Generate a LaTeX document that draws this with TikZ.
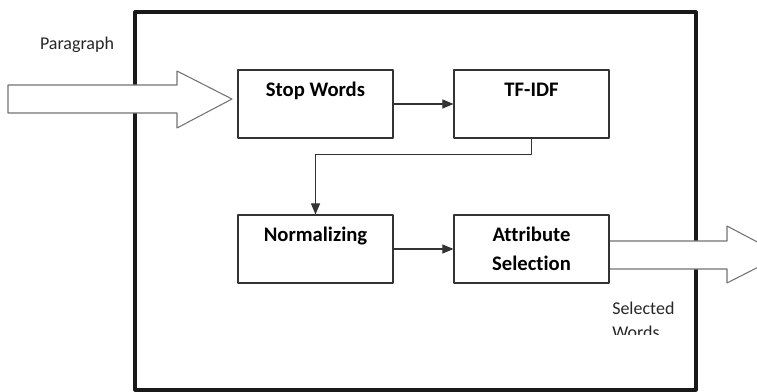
\documentclass[tikz,border=0pt]{standalone}
\usepackage{fontspec}
\setmainfont{Carlito}[Ligatures=NoCommon]
\usetikzlibrary{arrows,positioning}

\begin{document}
\begin{tikzpicture}
  [line cap=round,line join=round,>=triangle 45,x=0.75pt,y=-0.75pt,
   stepbox/.style={draw=black!80,line width=0.9pt,fill=white,
     minimum width=116.25pt,minimum height=51pt,align=center,
     font=\bfseries\fontsize{15.5}{21.75}\selectfont},
   flow/.style={draw=black!80,line width=0.9pt},
   bigarrow/.style={draw=black!55,line width=0.8pt,fill=white},
   note/.style={text=black!85,align=left,inner sep=0pt,
     font=\fontsize{13.5}{17.5}\selectfont}]
  \useasboundingbox (0,0) rectangle (757,392);
  \clip (0,0) rectangle (757,392);
  % outer frame
  \draw[line width=2.4pt,black!90] (135,12) rectangle (696,390);
  % input and output arrows
  \coordinate (parin) at (8,99);
  \coordinate (selout) at (608,241);
  \draw[bigarrow] (parin) ++(0,-14) -- ++(169,0) -- ++(0,-14) -- ++(55,28)
    -- ++(-55,29) -- ++(0,-15) -- ++(-169,0) -- cycle;
  \draw[bigarrow] (selout) -- ++(119,0) -- ++(0,-15) -- ++(55,29)
    -- ++(-55,28) -- ++(0,-14) -- ++(-119,0) -- cycle;
  % boxes
  \node[stepbox] (stop) at (315.5,104) {Stop Words\\\mbox{}};
  \node[stepbox] (tfidf) at (531.5,104) {TF-IDF\\\mbox{}};
  \node[stepbox] (norm) at (315.5,249) {Normalizing\\\mbox{}};
  \node[stepbox] (attr) at (531.5,249) {Attribute\\Selection};
  \node[note] (paralabel) at (77,45) {Paragraph};
  \begin{scope}
    \clip (600,290) rectangle (700,334);
    \node[note,anchor=north west] (selwords) at (612,302) {Selected\\Words};
  \end{scope}
  % connectors
  \draw[flow,->] (stop.east) -- (tfidf.west);
  \draw[flow,->] (tfidf.south) -- ++(0,16) -| (norm.north);
  \draw[flow,->] (norm.east) -- (attr.west);
\end{tikzpicture}
\end{document}
